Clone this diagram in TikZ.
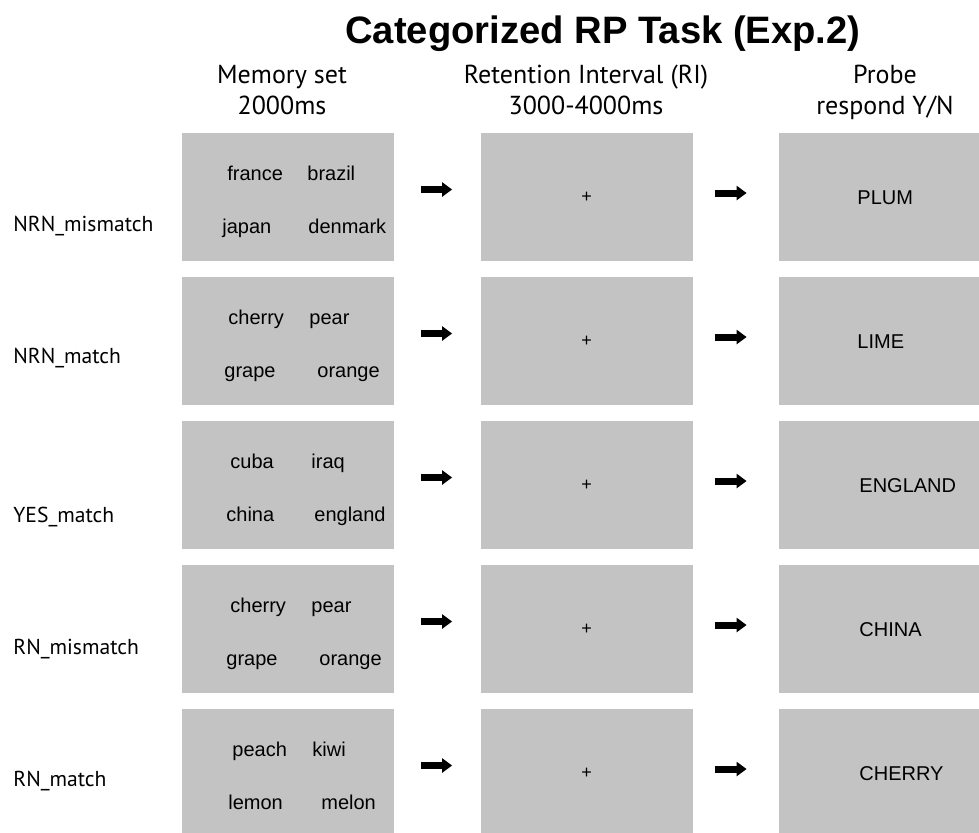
\documentclass[tikz,border=0pt]{standalone}
\usepackage{fontspec}
\setmainfont{Liberation Sans}
\newfontfamily\headfont{PT Sans}
\usetikzlibrary{arrows.meta,calc}

\definecolor{screengray}{RGB}{195,195,195}

\begin{document}
\begin{tikzpicture}[x=0.5pt, y=-0.5pt,
    screen/.style={fill=screengray, minimum width=106pt, minimum height=64pt, inner sep=0pt},
    probescreen/.style={screen, minimum width=100pt},
    word/.style={anchor=base west, inner sep=0pt, font=\fontsize{10}{12}\selectfont},
    fix/.style={inner sep=0pt, font=\fontsize{9}{10}\selectfont},
    head/.style={anchor=base, inner sep=0pt, font=\headfont\fontsize{13}{15}\selectfont},
    rowlabel/.style={anchor=base west, inner sep=0pt, font=\headfont\fontsize{10.8}{12}\selectfont},
    flow/.style={line width=3.5pt, -{Triangle[length=5pt, width=7pt]}}]
    \clip (0,0) rectangle (979,832);
    \fill[white] (0,0) rectangle (979,832);

    % Title and column heads
    \node[anchor=base west, inner sep=0pt, font=\bfseries\fontsize{19.1}{22}\selectfont] (title) at (345,43) {Categorized RP Task (Exp.2)};
    \node[head] (memhead) at (282,83) {Memory set};
    \node[head] (memtime) at (282,114) {2000ms};
    \node[head] (rethead) at (586,83) {Retention Interval (RI)};
    \node[head] (rettime) at (586,114) {3000-4000ms};
    \node[head] (probehead) at (885,83) {Probe};
    \node[head] (probetask) at (885,114) {respond Y/N};

    % Row 1
    \node[rowlabel] (lab1) at (13,231) {NRN\_mismatch};
    \node[screen] (mem1) at (288,197) {};
    \node[screen] (ret1) at (586.5,197) {};
    \node[probescreen] (probe1) at (879,197) {};
    \node[word] (w1a) at (227,180.5) {france};
    \node[word] (w1b) at (307,180.5) {brazil};
    \node[word] (w1c) at (222,233) {japan};
    \node[word] (w1d) at (308,233) {denmark};
    \node[fix] (fix1) at (ret1) {+};
    \node[word] (p1) at (857,204) {PLUM};
    \draw[flow] ($(mem1.east)+(27,-7.5)$) -- ($(ret1.west)+(-28,-7.5)$);
    \draw[flow] ($(ret1.east)+(22,-4)$) -- ($(probe1.west)+(-32,-4)$);

    % Row 2
    \node[rowlabel] (lab2) at (13,363) {NRN\_match};
    \node[screen] (mem2) at (288,341) {};
    \node[screen] (ret2) at (586.5,341) {};
    \node[probescreen] (probe2) at (879,341) {};
    \node[word] (w2a) at (228,324.5) {cherry};
    \node[word] (w2b) at (309,324.5) {pear};
    \node[word] (w2c) at (224,377) {grape};
    \node[word] (w2d) at (317,377) {orange};
    \node[fix] (fix2) at (ret2) {+};
    \node[word] (p2) at (857,348) {LIME};
    \draw[flow] ($(mem2.east)+(27,-7.5)$) -- ($(ret2.west)+(-28,-7.5)$);
    \draw[flow] ($(ret2.east)+(22,-4)$) -- ($(probe2.west)+(-32,-4)$);

    % Row 3
    \node[rowlabel] (lab3) at (13,522) {YES\_match};
    \node[screen] (mem3) at (288,485) {};
    \node[screen] (ret3) at (586.5,485) {};
    \node[probescreen] (probe3) at (879,485) {};
    \node[word] (w3a) at (230,468.5) {cuba};
    \node[word] (w3b) at (311,468.5) {iraq};
    \node[word] (w3c) at (226,521) {china};
    \node[word] (w3d) at (314,521) {england};
    \node[fix] (fix3) at (ret3) {+};
    \node[word] (p3) at (859,492) {ENGLAND};
    \draw[flow] ($(mem3.east)+(27,-7.5)$) -- ($(ret3.west)+(-28,-7.5)$);
    \draw[flow] ($(ret3.east)+(22,-4)$) -- ($(probe3.west)+(-32,-4)$);

    % Row 4
    \node[rowlabel] (lab4) at (13,654) {RN\_mismatch};
    \node[screen] (mem4) at (288,629) {};
    \node[screen] (ret4) at (586.5,629) {};
    \node[probescreen] (probe4) at (879,629) {};
    \node[word] (w4a) at (230,612.5) {cherry};
    \node[word] (w4b) at (311,612.5) {pear};
    \node[word] (w4c) at (226,665) {grape};
    \node[word] (w4d) at (319,665) {orange};
    \node[fix] (fix4) at (ret4) {+};
    \node[word] (p4) at (859,636) {CHINA};
    \draw[flow] ($(mem4.east)+(27,-7.5)$) -- ($(ret4.west)+(-28,-7.5)$);
    \draw[flow] ($(ret4.east)+(22,-4)$) -- ($(probe4.west)+(-32,-4)$);

    % Row 5
    \node[rowlabel] (lab5) at (13,786) {RN\_match};
    \node[screen] (mem5) at (288,773) {};
    \node[screen] (ret5) at (586.5,773) {};
    \node[probescreen] (probe5) at (879,773) {};
    \node[word] (w5a) at (232,756.5) {peach};
    \node[word] (w5b) at (312,756.5) {kiwi};
    \node[word] (w5c) at (228,809) {lemon};
    \node[word] (w5d) at (321,809) {melon};
    \node[fix] (fix5) at (ret5) {+};
    \node[word] (p5) at (859,780) {CHERRY};
    \draw[flow] ($(mem5.east)+(27,-7.5)$) -- ($(ret5.west)+(-28,-7.5)$);
    \draw[flow] ($(ret5.east)+(22,-4)$) -- ($(probe5.west)+(-32,-4)$);
\end{tikzpicture}
\end{document}
